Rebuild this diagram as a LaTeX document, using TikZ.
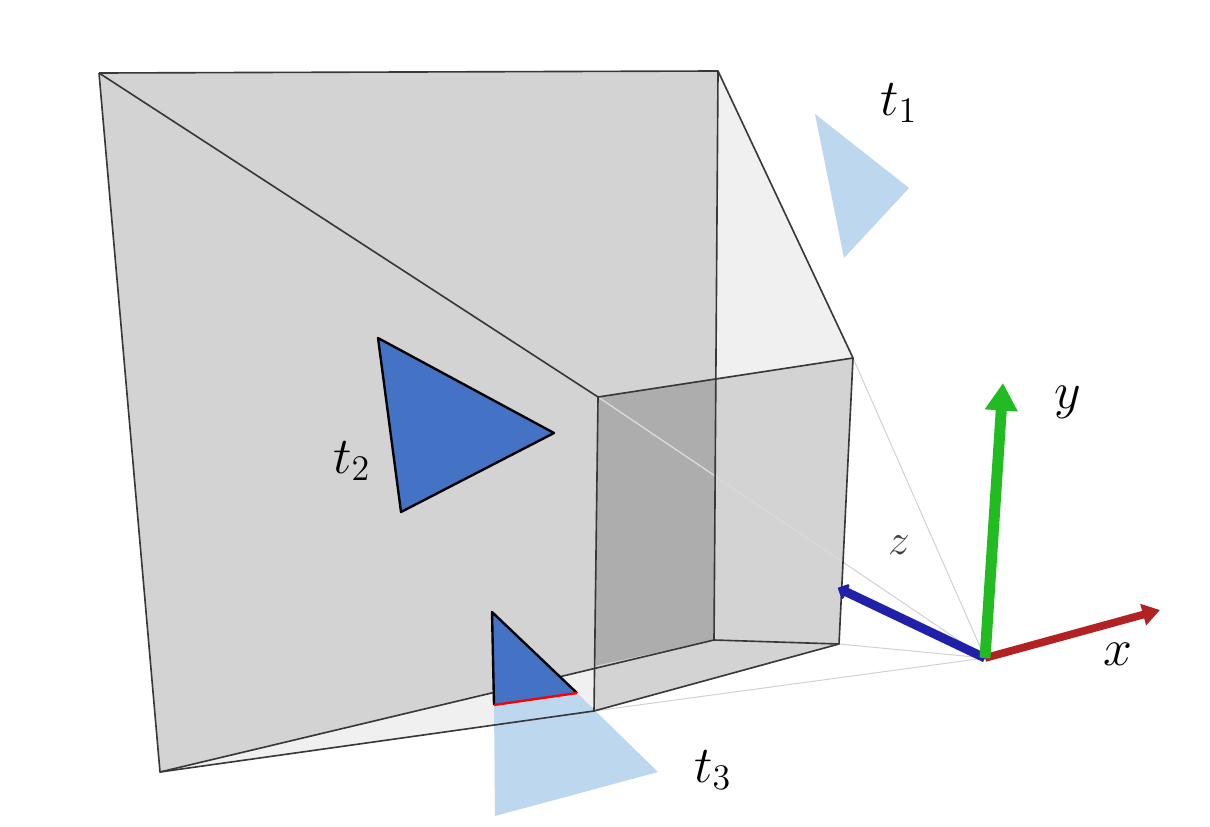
\documentclass[tikz,border=0pt]{standalone}
\usetikzlibrary{arrows.meta,calc}
\definecolor{facegray}{HTML}{D3D3D3}
\definecolor{darkface}{HTML}{ADADAD}
\definecolor{lightface}{HTML}{F0F0F0}
\definecolor{triblue}{HTML}{4472C4}
\definecolor{paleblue}{HTML}{BDD7EE}
\definecolor{axred}{HTML}{B22222}
\definecolor{axgreen}{HTML}{22BB22}
\definecolor{axblue}{HTML}{2020A8}
\tikzset{
  edge/.style={draw=black!78,line width=0.65pt,line join=round},
  ray/.style={draw=black!18,line width=0.4pt},
  inray/.style={draw=white!85!black,line width=0.55pt},
  tri/.style={fill=triblue,draw=black,line width=0.95pt,line join=round},
  pale/.style={fill=paleblue,draw=none},
  lab/.style={inner sep=0pt,font=\huge},
  zlab/.style={inner sep=0pt,font=\LARGE},
}
\begin{document}
\begin{tikzpicture}[x=0.4pt,y=-0.4pt]
\useasboundingbox (0,0) rectangle (1210,826);
% frustum corners
\coordinate (A) at (99,73);
\coordinate (B) at (718,71);
\coordinate (C) at (160,772);
\coordinate (D) at (714,640);
\coordinate (E) at (598,397);
\coordinate (F) at (853,358);
\coordinate (G) at (839,644);
\coordinate (H) at (594,711);
\coordinate (P) at (716,378);
\coordinate (Q) at (594,666);
\coordinate (O) at (985,658);
% faces
\fill[lightface] (B) -- (F) -- (P) -- cycle;
\fill[lightface] (C) -- (Q) -- (H) -- cycle;
\fill[facegray] (A) -- (B) -- (D) -- (C) -- cycle;
\fill[facegray] (P) -- (F) -- (G) -- (D) -- cycle;
\fill[facegray] (Q) -- (D) -- (G) -- (H) -- cycle;
\fill[darkface] (E) -- (P) -- (D) -- (Q) -- cycle;
% pale triangles
\fill[pale] (815,114) -- (909,188) -- (844,258) -- cycle;
\fill[pale] (494,705) -- (577,693) -- (658,772) -- (495,816) -- cycle;
% light rays
\draw[inray] (E) -- ($(E)!0.645!(O)$);
\draw[ray] ($(E)!0.645!(O)$) -- (O);
\draw[ray] (F) -- (O);
\draw[ray] (G) -- (O);
\draw[ray] (H) -- (O);
% edges
\draw[edge] (A) -- (B) -- (F) -- (E) -- (A);
\draw[edge] (A) -- (C) -- (D) -- (G) -- (F);
\draw[edge] (C) -- (H) -- (G);
\draw[edge] (E) -- (H);
\draw[edge] (B) -- (D);
% dark triangles
\draw[tri] (378,338) -- (554,433) -- (401,512) -- cycle;
\fill[triblue] (492,612) -- (577,693) -- (494,705) -- cycle;
\draw[black,line width=0.95pt,line join=round] (494,705) -- (492,612) -- (577,693);
\draw[red,line width=0.95pt] (494,705) -- (577,693);
% axes
\coordinate (Xe) at (1160,610);
\coordinate (Ye) at (1003,383);
\coordinate (Ze) at (838,588);
\draw[line width=3.1pt,axred,-{Triangle[width=8.5pt,length=7pt]}] (O) -- (Xe);
\draw[line width=3.6pt,axblue,-{Triangle[width=7.5pt,length=4pt,round]}] (O) -- (Ze);
\draw[line width=4.4pt,axgreen,-{Triangle[width=12.5pt,length=11pt]}] (O) -- (Ye);
% labels
\node[lab] (t1) at (899,103) {$t_1$};
\node[lab] (t2) at (352,461) {$t_2$};
\node[lab] (t3) at (713,770) {$t_3$};
\node[lab] (lx) at (1118,654) {$x$};
\node[lab] (ly) at (1068,402) {$y$};
\node[zlab,text=black!75] (lz) at (899,545) {$z$};
\end{tikzpicture}
\end{document}
